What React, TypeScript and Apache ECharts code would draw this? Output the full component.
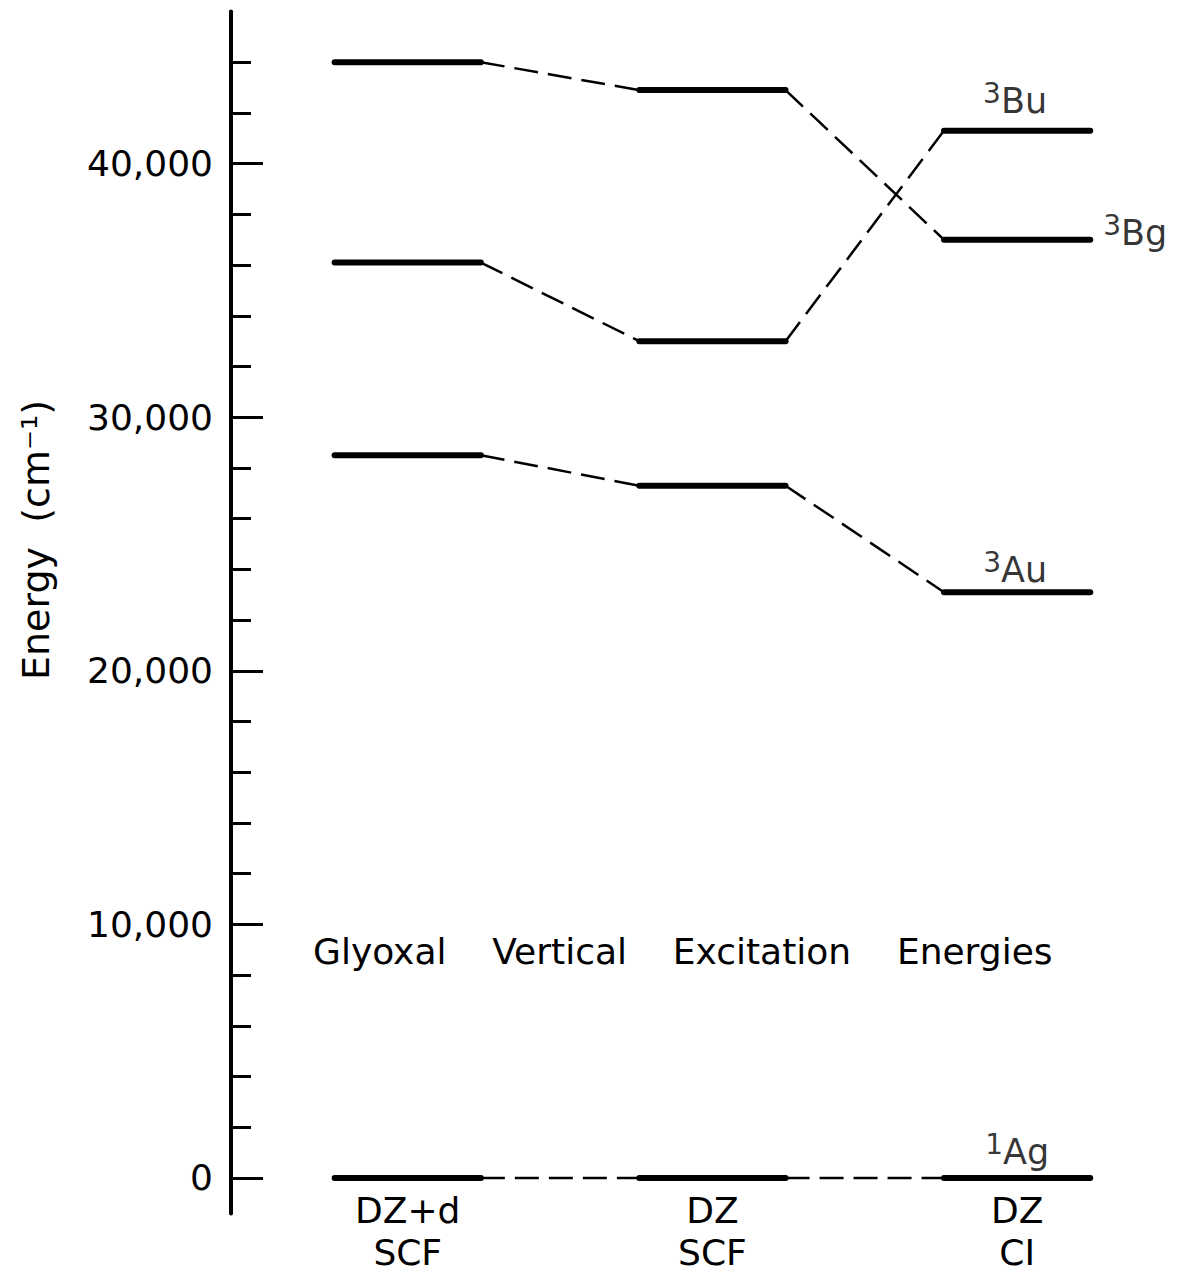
import React, { useEffect, useRef } from 'react';
import * as echarts from 'echarts';

// ---- data ----
const methods = ['DZ+d\nSCF', 'DZ\nSCF', 'DZ\nCI'];
const stateSup = ['1', '3', '3', '3'];
const stateSym = ['Ag', 'Au', 'Bg', 'Bu'];
const energies1Ag = [0, 0, 0];
const energies3Au = [28500, 27300, 23100];
const energies3Bg = [44000, 42900, 37000];
const energies3Bu = [36100, 33000, 41300];
const majorTicks = [0, 10000, 20000, 30000, 40000];
const minorTicks = [2000, 4000, 6000, 8000, 12000, 14000, 16000, 18000, 22000, 24000, 26000, 28000, 32000, 34000, 36000, 38000, 42000, 44000];
const yAxisName = 'Energy\u00a0\u00a0(cm\u207b\u00b9)';
const chartTitle = 'Glyoxal\u00a0\u00a0\u00a0\u00a0Vertical\u00a0\u00a0\u00a0\u00a0Excitation\u00a0\u00a0\u00a0\u00a0Energies';

const FONT = '"DejaVu Sans", "Liberation Sans", sans-serif';
const HALF = 0.24;
const INK = '#000';

function buildOption() {
  const allStates = [energies1Ag, energies3Au, energies3Bg, energies3Bu];
  const series: any[] = [];
  allStates.forEach((vals) => {
    vals.forEach((v, i) => {
      series.push({
        type: 'line',
        data: [[i - HALF, v], [i + HALF, v]],
        symbol: 'none',
        silent: true,
        lineStyle: { width: 6, color: INK, cap: 'round' },
        z: 3,
      });
      if (i < vals.length - 1) {
        series.push({
          type: 'line',
          data: [[i + HALF, v], [i + 1 - HALF, vals[i + 1]]],
          symbol: 'none',
          silent: true,
          lineStyle: { width: 2.5, color: INK, type: [24, 10] },
          z: 2,
        });
      }
    });
  });

  const rich = {
    s: { fontSize: 28, lineHeight: 36, verticalAlign: 'middle', fontFamily: FONT, color: INK },
    m: { fontSize: 35, lineHeight: 50, verticalAlign: 'bottom', fontFamily: FONT, color: INK },
  };
  const last = methods.length - 1;
  const labelData = [
    { value: [last, energies1Ag[last]], idx: 0, position: 'top', offset: [0, -8] },
    { value: [last, energies3Au[last]], idx: 1, position: 'top', offset: [-2, -5] },
    { value: [last + HALF, energies3Bg[last]], idx: 2, position: 'right', offset: [13, -14] },
    { value: [last, energies3Bu[last]], idx: 3, position: 'top', offset: [-2, -12] },
  ].map((d) => ({
    value: d.value,
    label: {
      show: true,
      position: d.position,
      distance: 0,
      offset: d.offset,
      color: INK,
      formatter: `{s|${stateSup[d.idx]}}{m|${stateSym[d.idx]}}`,
      rich,
    },
  }));
  series.push({
    type: 'scatter',
    symbolSize: 0,
    silent: true,
    data: labelData,
    z: 5,
  });

  return {
    animation: false,
    backgroundColor: '#fff',
    grid: { left: 231, top: 11.5, width: 908, height: 1202 },
    xAxis: {
      type: 'value',
      min: -0.58,
      max: 2.4,
      axisLine: { show: false, onZero: false },
      axisTick: { show: false },
      splitLine: { show: false },
      axisLabel: {
        show: true,
        customValues: [0, 1, 2],
        formatter: (v: number) => methods[Math.round(v)] ?? '',
        fontFamily: FONT,
        fontSize: 36,
        lineHeight: 42,
        color: INK,
        margin: -24,
      },
    },
    yAxis: [
      {
        type: 'value',
        position: 'left',
        offset: 0,
        min: -1400,
        max: 46000,
        axisLine: { show: true, onZero: false, lineStyle: { color: INK, width: 4 } },
        axisTick: { show: true, inside: true, length: 32, customValues: majorTicks, lineStyle: { color: INK, width: 3 } },
        axisLabel: {
          show: true,
          customValues: majorTicks,
          formatter: (v: number) => v.toLocaleString('en-US'),
          fontFamily: FONT,
          fontSize: 36,
          color: INK,
          margin: 18,
        },
        splitLine: { show: false },
      },
      {
        type: 'value',
        position: 'left',
        offset: 0,
        min: -1400,
        max: 46000,
        axisLine: { show: false, onZero: false },
        axisTick: { show: true, inside: true, length: 20, customValues: minorTicks, lineStyle: { color: INK, width: 3 } },
        axisLabel: { show: false },
        splitLine: { show: false },
      },
    ],
    graphic: [
      {
        type: 'text',
        x: 36,
        y: 540,
        rotation: Math.PI / 2,
        style: {
          text: yAxisName,
          font: `38px ${FONT}`,
          fill: INK,
          align: 'center',
          verticalAlign: 'middle',
        },
      },
      {
        type: 'text',
        x: 313,
        y: 951,
        style: {
          text: chartTitle,
          font: `36px ${FONT}`,
          fill: INK,
          align: 'left',
          verticalAlign: 'middle',
        },
      },
    ],
    series,
  };
}

export default function App() {
  const ref = useRef<HTMLDivElement>(null);
  useEffect(() => {
    if (!ref.current) return;
    const chart = echarts.init(ref.current, null, { renderer: 'svg' });
    chart.setOption(buildOption() as any);
    return () => chart.dispose();
  }, []);
  return (
    <div
      ref={ref}
      style={{ position: 'absolute', left: 0, top: 0, width: 1187, height: 1278, background: '#fff' }}
    />
  );
}
